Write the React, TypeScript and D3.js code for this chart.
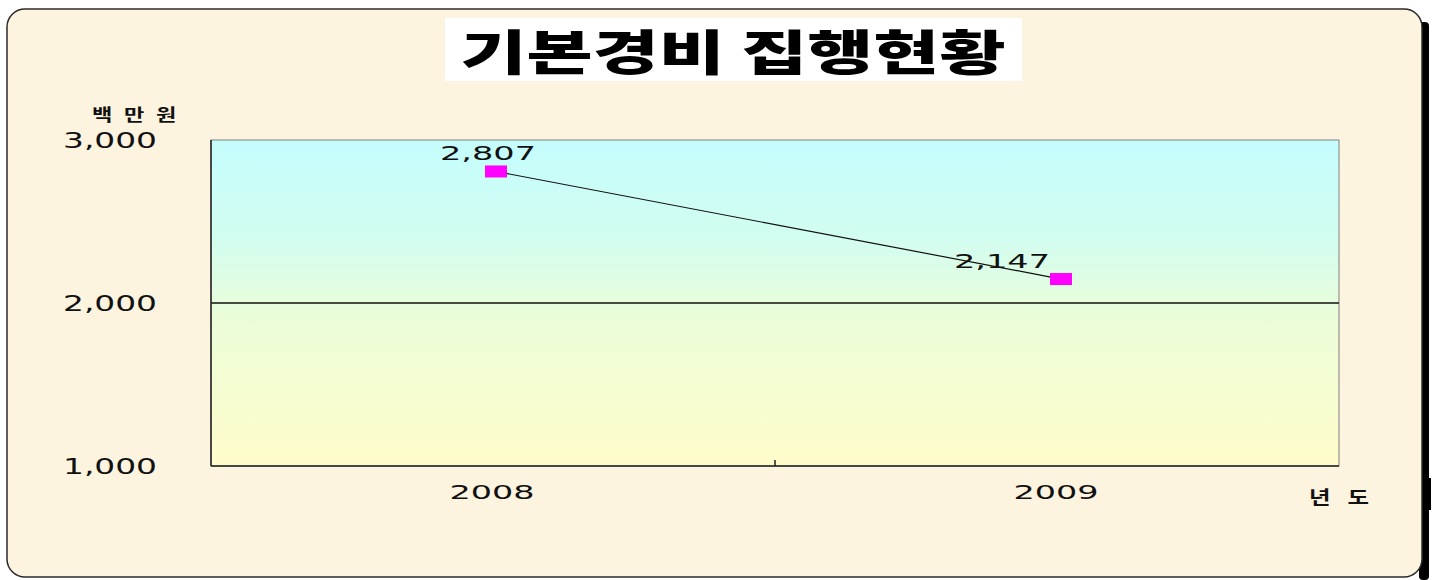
import React from "react";
import * as d3 from "d3";

const categories = ["2008", "2009"];
const values = [2807, 2147];
const valueLabels = ["2,807", "2,147"];
const yTicks = [1000, 2000, 3000];
const yTickLabels = ["1,000", "2,000", "3,000"];
const title = "기본경비 집행현황";
const yUnit = "백만원";
const xUnit = "년도";

const W = 1436;
const H = 580;
const plot = { left: 211, right: 1339, top: 140, bottom: 466 };
const labelDx = [-8, -59];
const markerDx = [3, 4];

export default function App() {
  const x = d3.scaleBand<string>().domain(categories).range([plot.left, plot.right]);
  const y = d3.scaleLinear().domain([1000, 3000]).range([plot.bottom, plot.top]);
  const cx = (i: number) => (x(categories[i]) as number) + x.bandwidth() / 2 + markerDx[i];
  const line = d3
    .line<number>()
    .x((_, i) => cx(i))
    .y((d) => y(d));
  const latin = "'DejaVu Sans', 'Liberation Sans', sans-serif";
  const kr = "'Noto Sans CJK KR', sans-serif";
  const midTick = x(categories[1]) as number;

  return (
    <svg
      width={W}
      height={H}
      style={{ position: "absolute", left: 0, top: 0, display: "block", background: "#ffffff" }}
    >
      <defs>
        <linearGradient id="plotGrad" x1="0" y1="0" x2="0" y2="1">
          <stop offset="0" stopColor="#c4fdfd" />
          <stop offset="0.3" stopColor="#d2fdf0" />
          <stop offset="0.55" stopColor="#ebfdd8" />
          <stop offset="1" stopColor="#fffcca" />
        </linearGradient>
      </defs>
      {/* frame shadow */}
      <rect x={1419} y={22} width={10} height={H - 22} fill="#000" rx={4} />
      <rect x={1427} y={478} width={4} height={32} fill="#000" />
      {/* frame */}
      <rect x={7} y={9} width={1415} height={568} rx={18} fill="#fdf4e0" stroke="#2a2a2a" strokeWidth={1.5} />

      {/* title */}
      <rect x={445} y={18} width={577} height={63} fill="#ffffff" />
      <text
        x={733}
        y={70}
        textAnchor="middle"
        fontFamily={kr}
        fontWeight={900}
        fontSize={48}
        fill="#000"
        textLength={545}
        lengthAdjust="spacingAndGlyphs"
      >
        {title}
      </text>

      {/* plot background */}
      <rect
        x={plot.left}
        y={plot.top}
        width={plot.right - plot.left}
        height={plot.bottom - plot.top}
        fill="url(#plotGrad)"
        stroke="#808080"
        strokeWidth={1}
      />
      {/* gridlines */}
      {yTicks
        .filter((t) => t !== 1000 && t !== 3000)
        .map((t) => (
          <line key={t} x1={plot.left} x2={plot.right} y1={y(t)} y2={y(t)} stroke="#111" strokeWidth={1.5} />
        ))}
      {/* axes */}
      <line x1={plot.left} x2={plot.left} y1={plot.top} y2={plot.bottom} stroke="#222" strokeWidth={1.5} />
      <line x1={plot.left} x2={plot.right} y1={plot.bottom} y2={plot.bottom} stroke="#222" strokeWidth={1.5} />
      <line x1={midTick} x2={midTick} y1={plot.bottom - 6} y2={plot.bottom} stroke="#222" strokeWidth={1.5} />

      {/* y tick labels */}
      {yTicks.map((t, i) => (
        <text
          key={t}
          x={63}
          y={y(t) + 8}
          fontFamily={latin}
          fontSize={21}
          fill="#111"
          textLength={94}
          lengthAdjust="spacingAndGlyphs"
        >
          {yTickLabels[i]}
        </text>
      ))}
      <text
        transform="translate(92,121) scale(1.3,1)"
        fontFamily={kr}
        fontSize={17}
        fontWeight={700}
        letterSpacing={9}
        fill="#111"
      >
        {yUnit}
      </text>

      {/* x labels */}
      {categories.map((c) => (
        <text
          key={c}
          x={(x(c) as number) + x.bandwidth() / 2 - 1}
          y={499}
          textAnchor="middle"
          fontFamily={latin}
          fontSize={20}
          fill="#111"
          textLength={85}
          lengthAdjust="spacingAndGlyphs"
        >
          {c}
        </text>
      ))}
      <text
        transform="translate(1309,504) scale(1.3,1)"
        fontFamily={kr}
        fontSize={18}
        fontWeight={700}
        letterSpacing={13}
        fill="#111"
      >
        {xUnit}
      </text>

      {/* series */}
      <path d={line(values) || ""} fill="none" stroke="#111" strokeWidth={1.2} />
      {values.map((v, i) => (
        <rect key={i} x={cx(i) - 11} y={y(v) - 6} width={22} height={12} fill="#ff00ff" />
      ))}
      {values.map((v, i) => (
        <text
          key={"l" + i}
          x={cx(i) + labelDx[i]}
          y={y(v) - 11}
          textAnchor="middle"
          fontFamily={latin}
          fontSize={20}
          fill="#111"
          textLength={96}
          lengthAdjust="spacingAndGlyphs"
        >
          {valueLabels[i]}
        </text>
      ))}
    </svg>
  );
}
